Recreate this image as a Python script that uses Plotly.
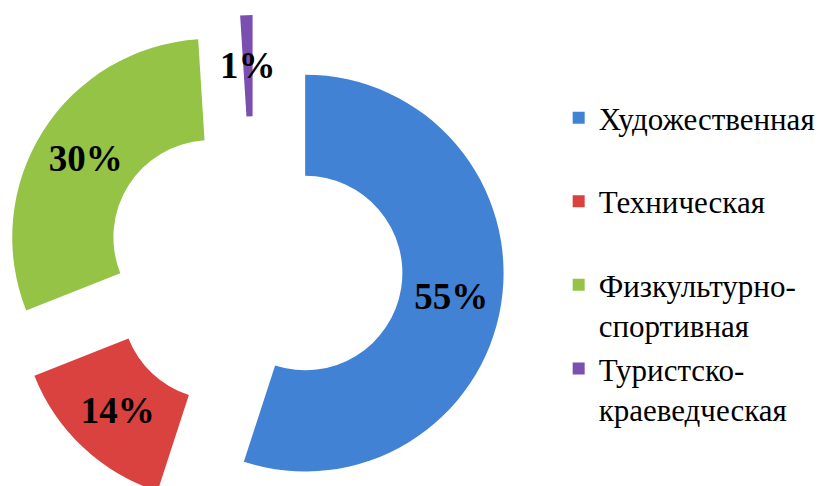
import math
import plotly.graph_objects as go

legend_labels = ["Художественная<br> ", "Техническая<br> ", "Физкультурно-<br>спортивная", "Туристско-<br>краеведческая"]
values = [55, 14, 30, 1]
colors = ["#4282D4", "#D9423F", "#95C346", "#7A4FB0"]
pulls = [0.26, 0.26, 0.26, 0.26]
text_pos = ["inside", "inside", "inside", "none"]

W, H = 824, 515
MT = 15
dom_x = [0.005, 0.612]
dom_y = [0.0, 1.0]
hole = 0.49

serif = "Liberation Serif, Times New Roman, serif"
label_font = dict(family=serif, size=37, color="black", weight="bold")

fig = go.Figure(go.Pie(
    labels=legend_labels,
    values=values,
    sort=False,
    direction="clockwise",
    rotation=0,
    hole=hole,
    pull=pulls,
    marker=dict(colors=colors, line=dict(width=0)),
    texttemplate="%{percent:.0%}",
    textposition=text_pos,
    insidetextorientation="horizontal",
    textfont=label_font,
    domain=dict(x=dom_x, y=dom_y),
    hoverinfo="skip",
))

# label for the thin slice, placed at its mid-ring (computed from the data)
plot_h = H - MT
wpx = (dom_x[1] - dom_x[0]) * W
hpx = (dom_y[1] - dom_y[0]) * plot_h
R = min(wpx, hpx) / (2 * (1 + max(pulls)))
cx = (dom_x[0] + dom_x[1]) / 2 * W
cy_from_bottom = (dom_y[0] + dom_y[1]) / 2 * plot_h
total = sum(values)
cum = 0
for v, p, tp in zip(values, pulls, text_pos):
    mid = (cum + v / 2) / total * 2 * math.pi
    cum += v
    if tp != "none":
        continue
    rr = R * (1 + hole) / 2 + R * p
    px = cx + rr * math.sin(mid)
    py = cy_from_bottom + rr * math.cos(mid)
    fig.add_annotation(
        x=px / W, y=py / plot_h, xref="paper", yref="paper",
        text=f"{round(v / total * 100)}%", showarrow=False,
        font=label_font, xanchor="center", yanchor="middle",
    )

fig.update_layout(
    width=W,
    height=H,
    margin=dict(l=0, r=0, t=MT, b=0),
    paper_bgcolor="white",
    plot_bgcolor="white",
    legend=dict(
        x=0.678, y=0.848, xanchor="left", yanchor="top",
        valign="top",
        font=dict(family=serif, size=31, color="black"),
        itemwidth=30,
    ),
)

fig.write_html(
    "out.html",
    config={"displayModeBar": False},
    post_script=(
        "document.body.style.margin='0';"
        "document.documentElement.style.overflow='hidden';"
        "document.body.style.overflow='hidden';"
    ),
)
